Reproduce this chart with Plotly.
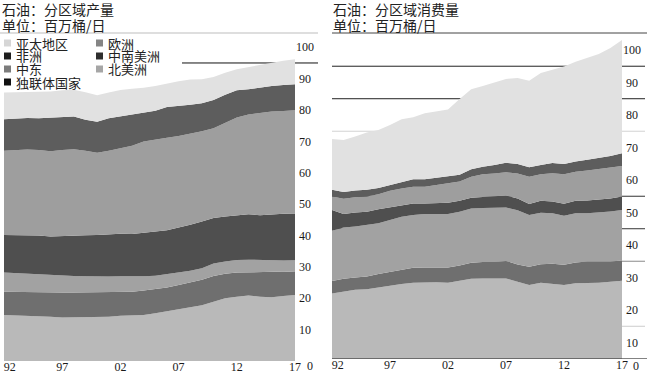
import plotly.graph_objects as go

W, H = 647, 374

years = list(range(1992, 2018))
regions = ["北美洲", "中南美洲", "欧洲", "独联体国家", "中东", "非洲", "亚太地区"]
region_colors = ["#b9b9b9", "#6f6f6f", "#a2a2a2", "#4f4f4f", "#9e9e9e", "#5d5d5d", "#e1e1e1"]

prod_north_america = [14.7, 14.6, 14.4, 14.4, 14.1, 13.9, 13.9, 14.0, 14.1, 14.1, 14.4, 14.6, 14.7, 15.2, 15.9, 16.5, 17.1, 17.8, 18.9, 20.0, 20.5, 20.9, 20.5, 20.3, 20.7, 21.0]
prod_south_central_america = [7.4, 7.4, 7.5, 7.4, 7.6, 7.9, 7.9, 7.9, 7.9, 7.9, 7.8, 7.5, 7.8, 7.7, 7.5, 7.7, 7.9, 8.1, 8.2, 7.8, 7.7, 7.4, 7.7, 8.1, 7.8, 7.4]
prod_europe = [6.1, 6.0, 5.8, 5.9, 5.6, 5.4, 5.3, 5.1, 4.9, 4.9, 4.8, 4.8, 4.5, 4.3, 4.3, 4.0, 3.8, 3.7, 4.0, 3.9, 4.0, 4.0, 4.0, 3.6, 3.5, 3.7]
prod_cis = [12.0, 12.2, 12.3, 12.3, 12.4, 12.7, 12.8, 13.1, 13.3, 13.5, 13.6, 13.6, 13.8, 14.1, 14.0, 14.3, 14.6, 14.9, 14.5, 14.4, 14.3, 14.5, 14.3, 14.8, 14.9, 14.9]
prod_middle_east = [26.8, 27.1, 27.4, 27.3, 27.2, 27.4, 27.6, 26.9, 26.2, 26.6, 27.3, 28.1, 29.2, 29.4, 29.5, 29.2, 29.0, 28.7, 28.6, 29.8, 31.1, 31.8, 32.6, 32.7, 32.8, 32.9]
prod_africa = [10.1, 10.1, 10.1, 10.1, 10.6, 10.3, 10.4, 9.9, 9.9, 10.4, 10.1, 9.9, 9.0, 9.1, 9.8, 9.6, 9.3, 9.0, 9.0, 9.0, 8.7, 8.0, 8.1, 8.2, 8.3, 8.3]
prod_asia_pacific = [8.5, 8.3, 8.2, 8.6, 8.4, 8.7, 8.6, 8.8, 8.4, 8.2, 8.4, 8.3, 8.1, 7.9, 7.5, 7.9, 8.0, 7.6, 7.3, 7.0, 6.7, 7.1, 7.1, 7.3, 7.7, 8.0]

# Consumption by region
cons_north_america = [25.1, 25.6, 26.2, 26.4, 27.0, 27.4, 28.0, 28.4, 28.5, 28.5, 28.4, 28.9, 29.6, 29.7, 29.7, 29.7, 28.7, 27.7, 28.4, 28.0, 27.7, 28.2, 28.2, 28.4, 28.7, 29.0]
cons_south_central_america = [3.8, 4.0, 3.8, 3.9, 4.1, 4.4, 4.5, 4.6, 4.6, 4.6, 4.7, 4.8, 4.9, 5.1, 5.1, 5.4, 5.3, 5.6, 5.7, 6.2, 6.2, 6.4, 6.7, 6.5, 6.2, 6.2]
cons_europe = [15.5, 15.8, 15.7, 15.8, 15.6, 15.9, 16.2, 16.2, 16.4, 16.4, 16.4, 16.5, 16.7, 16.6, 16.7, 16.4, 16.7, 15.9, 15.8, 15.6, 15.1, 15.2, 14.9, 15.1, 15.4, 15.6]
cons_cis = [6.4, 4.1, 4.3, 4.1, 4.3, 3.9, 3.6, 3.6, 3.3, 3.5, 3.5, 3.4, 3.3, 3.4, 3.5, 3.7, 3.6, 3.4, 3.7, 3.6, 3.7, 3.8, 3.9, 3.9, 4.0, 4.1]
cons_middle_east = [4.1, 4.7, 4.7, 4.7, 4.6, 5.1, 5.1, 5.1, 5.1, 5.4, 5.9, 5.9, 6.5, 7.0, 7.0, 7.2, 7.7, 8.4, 8.2, 8.7, 9.1, 8.9, 9.2, 9.4, 9.6, 9.4]
cons_africa = [2.1, 2.1, 2.1, 2.1, 1.9, 1.7, 2.1, 2.3, 2.3, 2.3, 2.1, 2.1, 2.3, 2.3, 2.6, 2.9, 2.9, 2.9, 2.8, 3.1, 3.1, 3.2, 3.3, 3.4, 3.5, 3.9]
cons_asia_pacific = [15.6, 16.0, 16.6, 17.6, 17.9, 18.5, 19.2, 19.1, 20.3, 20.3, 20.7, 23.3, 24.6, 24.8, 25.3, 25.8, 26.5, 26.6, 28.3, 28.7, 30.0, 30.7, 31.4, 32.1, 33.2, 34.9]

x_tickvals = [1992.5, 1997, 2002, 2007, 2012, 2017]
x_ticktext = ["92", "97", "02", "07", "12", "17"]
y_tickvals = [10, 20, 30, 40, 50, 60, 70, 80, 90, 100]
y_ticktext = ["\u200510", "\u200520", "\u200530", "\u200540", "\u200550", "\u200560", "\u200570", "\u200580", "\u200590", "100"]

left_title = "石油：分区域产量"
right_title = "石油：分区域消费量"
unit_text = "单位：百万桶/日"

legend_order = ["亚太地区", "非洲", "中东", "独联体国家", "欧洲", "中南美洲", "北美洲"]
legend_marker_colors = ["#d6d6d6", "#1e1e1e", "#7c7c7c", "#111111", "#858585", "#2e2e2e", "#a6a6a6"]

right_grid_vals = [15, 35, 45, 55, 75, 85, 95]
right_grid_cols = ["#cccccc", "#8a8a8a", "#333333", "#333333", "#d2d2d2", "#222222", "#222222"]

prod_series = [prod_north_america, prod_south_central_america, prod_europe, prod_cis,
               prod_middle_east, prod_africa, prod_asia_pacific]
cons_series = [cons_north_america, cons_south_central_america, cons_europe, cons_cis,
               cons_middle_east, cons_africa, cons_asia_pacific]


def px(xp):
    return xp / W


def py(yp):
    return 1 - yp / H


fig = go.Figure()
for name, col, vals in zip(regions, region_colors, prod_series):
    fig.add_trace(go.Scatter(x=years, y=vals, name=name, stackgroup="prod", mode="lines",
                             line=dict(width=0, color=col), fillcolor=col,
                             xaxis="x", yaxis="y", showlegend=False))
for name, col, vals in zip(regions, region_colors, cons_series):
    fig.add_trace(go.Scatter(x=years, y=vals, name=name, stackgroup="cons", mode="lines",
                             line=dict(width=0, color=col), fillcolor=col,
                             xaxis="x2", yaxis="y2", showlegend=False))

num_font = dict(family="Liberation Serif", size=12, color="#1a1a1a")
cjk = "Noto Sans CJK SC"

xcommon = dict(range=[1992, 2017], tickvals=x_tickvals, ticktext=x_ticktext,
               showgrid=False, zeroline=False, showline=False, ticks="",
               tickfont=num_font, fixedrange=True, automargin=False,
               ticklabelstandoff=-3, ticklabeloverflow="allow")
ycommon = dict(side="right", tickvals=y_tickvals, ticktext=y_ticktext,
               showgrid=False, zeroline=False, showline=False, ticks="",
               tickfont=num_font, fixedrange=True, automargin=False,
               ticklabeloverflow="allow")

fig.update_layout(
    template="none",
    width=W, height=H, autosize=False,
    margin=dict(l=0, r=0, t=0, b=0, pad=0),
    paper_bgcolor="white", plot_bgcolor="white",
    xaxis=dict(domain=[px(4), px(295)], anchor="y", **xcommon),
    yaxis=dict(domain=[py(361), py(36)], range=[0, 103.6], anchor="x", **ycommon),
    xaxis2=dict(domain=[px(332), px(622)], anchor="y2", **xcommon),
    yaxis2=dict(domain=[py(358.75), py(36)], range=[5, 104.3], anchor="x2", **ycommon),
)

shapes = []
# header rules
shapes.append(dict(type="line", xref="paper", yref="paper", x0=px(0), x1=px(318),
                   y0=py(33), y1=py(33), line=dict(color="#bdbdbd", width=1)))
shapes.append(dict(type="line", xref="paper", yref="paper", x0=px(332), x1=px(647),
                   y0=py(33), y1=py(33), line=dict(color="#444444", width=1)))
# left gridline (visible only above areas and in label column)
shapes.append(dict(type="line", xref="paper", yref="y", x0=px(182), x1=px(318),
                   y0=95, y1=95, layer="below", line=dict(color="#111111", width=1)))
# right gridlines
for v, c in zip(right_grid_vals, right_grid_cols):
    shapes.append(dict(type="line", xref="paper", yref="y2", x0=px(332), x1=px(645),
                       y0=v, y1=v, layer="below", line=dict(color=c, width=1)))
# right baseline
shapes.append(dict(type="line", xref="paper", yref="y2", x0=px(332), x1=px(647),
                   y0=5, y1=5, layer="above", line=dict(color="#222222", width=1)))

ann = []
tfont = dict(family=cjk, size=14, color="#222222")
ann.append(dict(text=left_title, x=px(0), y=py(9), xref="paper", yref="paper",
                xanchor="left", yanchor="middle", showarrow=False, font=tfont))
ann.append(dict(text=unit_text, x=px(0), y=py(25), xref="paper", yref="paper",
                xanchor="left", yanchor="middle", showarrow=False, font=tfont))
ann.append(dict(text=right_title, x=px(331), y=py(9), xref="paper", yref="paper",
                xanchor="left", yanchor="middle", showarrow=False, font=tfont))
ann.append(dict(text=unit_text, x=px(331), y=py(25), xref="paper", yref="paper",
                xanchor="left", yanchor="middle", showarrow=False, font=tfont))

# legend
lfont = dict(family=cjk, size=13, color="#222222")
leg_pos = [(4, 43), (4, 56), (4, 69), (4, 82), (96, 43), (96, 56), (96, 69)]
for (lx, ly), name, col in zip(leg_pos, legend_order, legend_marker_colors):
    shapes.append(dict(type="rect", xref="paper", yref="paper",
                       x0=px(lx), x1=px(lx + 7), y0=py(ly + 3.5), y1=py(ly - 3.5),
                       line=dict(width=0), fillcolor=col))
    ann.append(dict(text=name, x=px(lx + 10), y=py(ly), xref="paper", yref="paper",
                    xanchor="left", yanchor="middle", showarrow=False, font=lfont))

# zero labels
ann.append(dict(text="0", x=px(310), y=py(366), xref="paper", yref="paper",
                xanchor="center", yanchor="middle", showarrow=False, font=num_font))
ann.append(dict(text="0", x=px(636), y=py(366), xref="paper", yref="paper",
                xanchor="center", yanchor="middle", showarrow=False, font=num_font))

fig.update_layout(shapes=shapes, annotations=ann)

fig.write_html("out.html", config={"displayModeBar": False},
               post_script="document.body.style.margin='0';")
